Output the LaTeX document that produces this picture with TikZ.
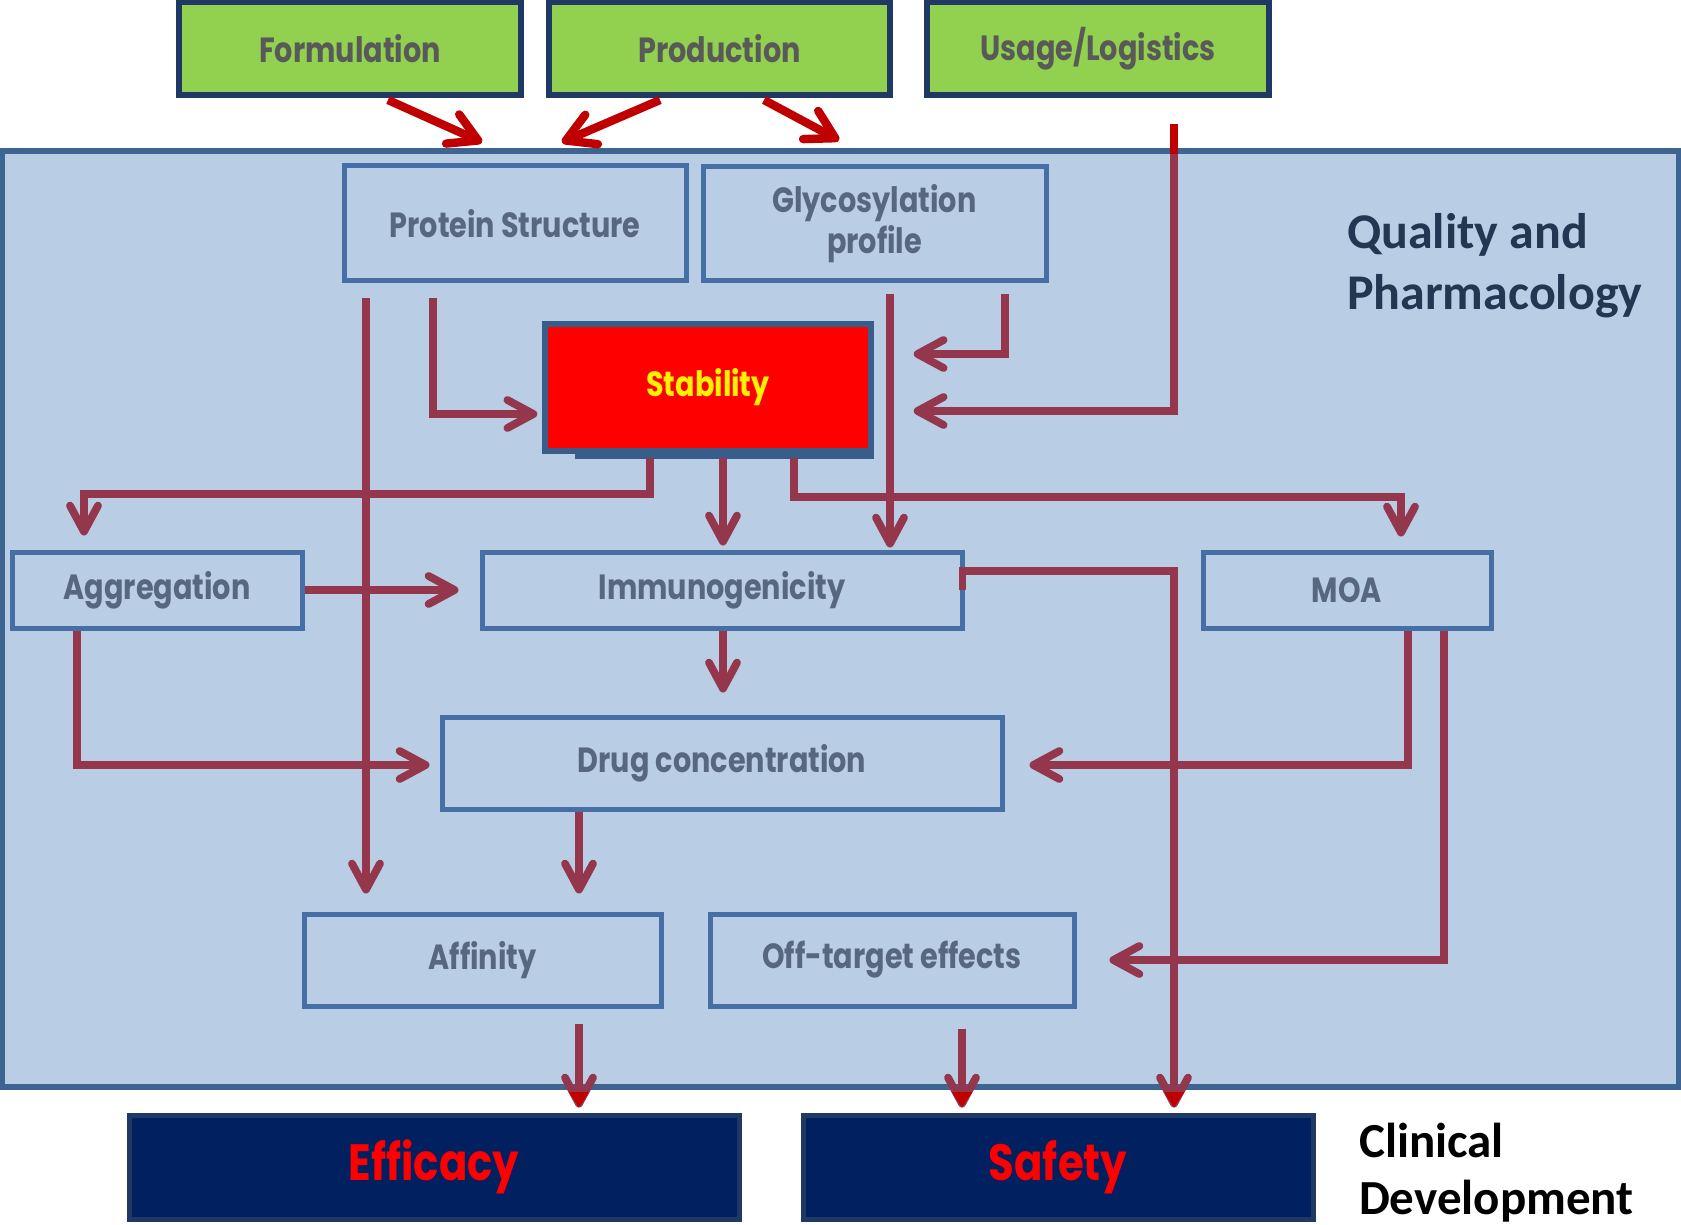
\documentclass[tikz,border=0pt]{standalone}
\usepackage{fontspec}
\setmainfont{Poppins}[FakeStretch=0.82]
\newfontfamily\headfont{Carlito}
\usetikzlibrary{arrows.meta,calc}
\definecolor{panelblue}{RGB}{185,205,228}
\definecolor{paneledge}{RGB}{62,100,146}
\definecolor{boxedge}{RGB}{70,112,165}
\definecolor{boxtext}{RGB}{88,103,128}
\definecolor{leafgreen}{RGB}{146,208,80}
\definecolor{navy}{RGB}{31,56,100}
\definecolor{deepnavy}{RGB}{0,32,96}
\definecolor{maroon}{RGB}{148,54,76}
\definecolor{darkred}{RGB}{192,0,0}
\definecolor{headnavy}{RGB}{35,55,82}
\definecolor{stabedge}{RGB}{56,93,138}

\begin{document}
\begin{tikzpicture}[x=0.5pt,y=-0.5pt]
    \tikzstyle{source}=[fill=leafgreen,draw=navy,line width=3pt,text={black!65},font=\bfseries\fontsize{17.5}{20}\selectfont,inner sep=0pt,minimum height=46.5pt]
    \tikzstyle{factor}=[draw=boxedge,line width=2.5pt,text=boxtext,font=\bfseries\fontsize{17.5}{20.5}\selectfont,align=center,inner sep=0pt]
    \tikzstyle{hot}=[fill=red,draw=stabedge,line width=2.7pt,text=yellow]
    \tikzstyle{outcome}=[fill=deepnavy,draw=navy,line width=2.5pt,text=red,font=\bfseries\fontsize{25.5}{28}\selectfont,inner sep=0pt,minimum height=52pt]
    \tikzstyle{link}=[draw=maroon,line width=3.9pt,-{Straight Barb[length=13pt,width=14pt,round]}]
    \tikzstyle{feed}=[draw=darkred,line width=4.2pt,-{Straight Barb[length=14pt,width=16pt,round]}]
    \tikzstyle{redtip}=[draw=darkred,fill=darkred,line width=0.5pt,-{Triangle[length=17pt,width=22pt]}]

    \useasboundingbox (0,0) rectangle (1681,1225);

    % inputs on top
    \node[source,minimum width=171pt] (form) at (350,48.5) {Formulation};
    \node[source,minimum width=170.5pt] (prod) at (719.5,48.5) {Production};
    \node[source,minimum width=171pt] (usage) at (1098,48.5) {Usage/Logistics};

    % quality panel
    \node[fill=panelblue,draw=paneledge,line width=2.8pt,minimum width=838.5pt,minimum height=468pt,inner sep=0pt] (panel) at (840.5,619) {};
    \node[anchor=west,align=left,text=headnavy,font=\headfont\bfseries\fontsize{25}{30.5}\selectfont] (quality) at (1340,266) {Quality and\\Pharmacology};

    \node[factor,minimum width=171pt,minimum height=57.5pt] (prot) at (515,223.5) {Protein Structure};
    \node[factor,minimum width=171.5pt,minimum height=57pt] (glyco) at (874.5,224) {Glycosylation\\profile};
    \node[factor,hot,minimum width=163pt,minimum height=63.5pt] (stab) at (708,387.5) {Stability};
    \fill[stabedge] ($(stab.south west)+(33,0)$) rectangle ($(stab.south east)+(0,5)$);
    \node[factor,minimum width=145pt,minimum height=38pt] (aggr) at (157,590) {Aggregation};
    \node[factor,minimum width=240pt,minimum height=38pt] (immu) at (722,590) {Immunogenicity};
    \node[factor,minimum width=144pt,minimum height=38pt] (moa) at (1347,590) {MOA};
    \node[factor,minimum width=280pt,minimum height=46pt] (drug) at (722,763) {Drug concentration};
    \node[factor,minimum width=178.5pt,minimum height=46pt] (affin) at (482.5,960) {Affinity};
    \node[factor,minimum width=182pt,minimum height=46pt] (offt) at (892,960) {Off-target effects};

    % clinical outcomes
    \node[outcome,minimum width=305pt] (effic) at (434,1167) {Efficacy};
    \node[outcome,minimum width=255pt] (safety) at (1058,1167) {Safety};
    \node[anchor=west,align=left,font=\headfont\bfseries\fontsize{24.5}{28.5}\selectfont] (clinical) at (1352,1173) {Clinical\\Development};

    % arrows from the inputs
    \draw[feed] ($(form.south)+(38,2)$) -- ($(panel.north)+(-358.5,-6)$);
    \draw[feed] ($(prod.south)+(-59.5,2)$) -- ($(panel.north)+(-278.5,-6)$);
    \draw[feed] ($(prod.south)+(44.5,2)$) -- ($(panel.north)+(-1.5,-8)$);
    \draw[link] ($(usage.south)+(76,26)$) |- ($(stab.east)+(40,23.5)$);
    \draw[darkred,line width=3.9pt] ($(usage.south)+(76,26)$) -- ($(usage.south)+(76,56)$);

    % inside the panel
    \draw[link] ($(glyco.south)+(130.5,11)$) |- ($(stab.east)+(40,-33.5)$);
    \draw[link] ($(glyco.south)+(15.5,11)$) -- ($(immu.north)+(168,-2)$);
    \draw[link] ($(prot.south)+(-149,15)$) -- ($(affin.north)+(-116.5,-18)$);
    \draw[link] ($(prot.south)+(-82,15)$) |- ($(stab.west)+(-5,26.5)$);
    \draw[link] ($(stab.south)+(-58,4)$) -- ++(0,36) -| ($(aggr.north)+(-73,-14)$);
    \draw[link] ($(stab.south)+(15,4)$) -- ($(immu.north)+(1,-4)$);
    \draw[link] ($(stab.south)+(86,4)$) -- ++(0,39) -| ($(moa.north)+(54,-13)$);
    \draw[link] (aggr.east) -- ($(immu.west)+(-21,0)$);
    \draw[link] ($(aggr.south)+(-80,0)$) |- ($(drug.west)+(-10,2)$);
    \draw[link] ($(immu.south)+(1,0)$) -- ($(drug.north)+(1,-22)$);
    \draw[link] ($(immu.east)+(-2,0)$) -- ++(0,-19) -| ($(safety.north)+(116,-5)$);
    \draw[link] ($(moa.south)+(61,0)$) |- ($(drug.east)+(25,2)$);
    \draw[link] ($(moa.south)+(97,0)$) |- ($(offt.east)+(33,0)$);
    \draw[link] ($(drug.south)+(-143,0)$) -- ($(affin.north)+(96.5,-18)$);

    % into clinical development
    \draw[link] ($(affin.south)+(96.5,15)$) -- ($(effic.north)+(145,-5)$);
    \draw[link] ($(offt.south)+(70,20)$) -- ($(safety.north)+(-96,-5)$);
    \begin{scope}
    \clip ($(panel.south west)+(0,3)$) rectangle (1681,1110);
    \draw[redtip] ($(affin.south)+(96.5,15)$) -- ($(effic.north)+(145,-5)$);
    \draw[redtip] ($(offt.south)+(70,20)$) -- ($(safety.north)+(-96,-5)$);
    \draw[redtip] ($(immu.east)+(212,0)$) -- ($(safety.north)+(116,-5)$);
    \end{scope}

\end{tikzpicture}
\end{document}
